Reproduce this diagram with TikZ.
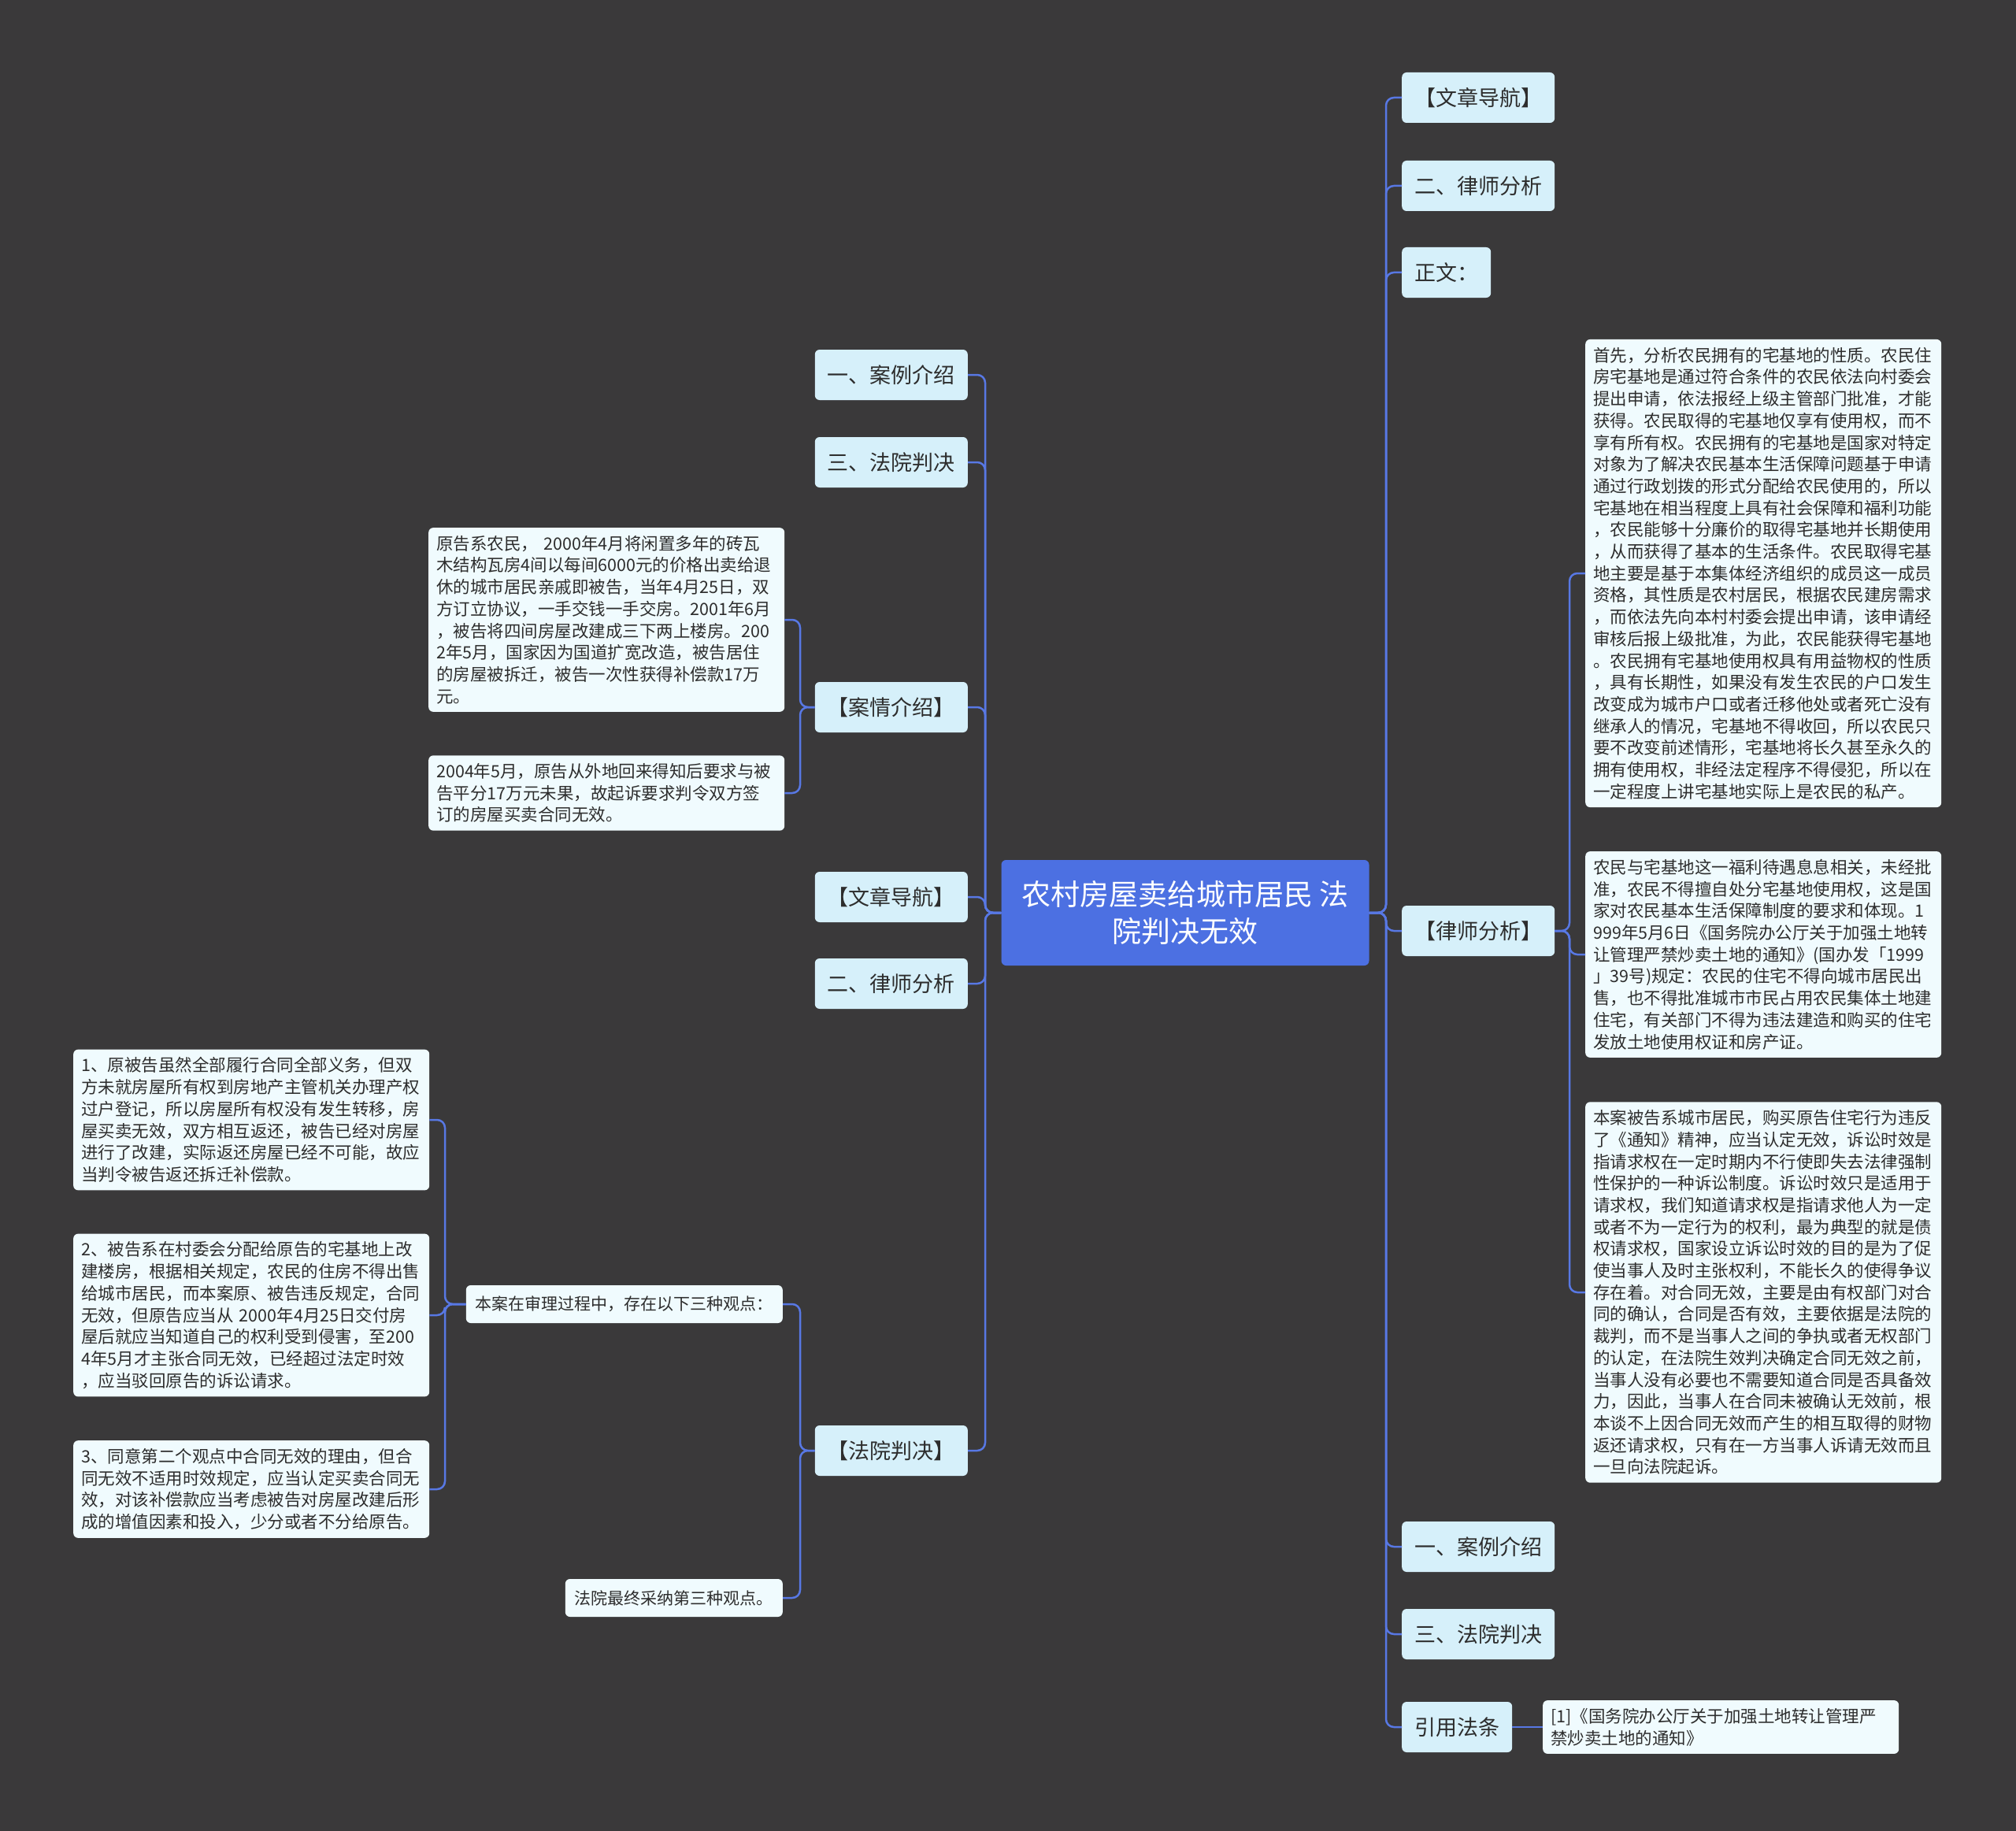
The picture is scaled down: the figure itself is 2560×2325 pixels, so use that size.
\documentclass[tikz,border=0pt]{standalone}
\usepackage{fontspec}
\setmainfont{Noto Sans CJK SC}

\definecolor{bgdark}{RGB}{58,57,58}
\definecolor{linkblue}{RGB}{88,120,228}
\definecolor{rootblue}{RGB}{76,112,226}
\definecolor{topicfill}{RGB}{214,240,250}
\definecolor{notefill}{RGB}{240,251,254}
\definecolor{textgray}{RGB}{45,45,45}

\begin{document}
\begin{tikzpicture}[x=1pt,y=-1pt,
  link/.style={draw=linkblue,line width=2.5pt,rounded corners=10pt},
  title/.style={fill=rootblue,text=white,rounded corners=6pt,minimum width=467pt,
    minimum height=134pt,align=center,font=\fontsize{37}{47}\selectfont},
  topic/.style={fill=topicfill,text=textgray,rounded corners=6pt,minimum height=64pt,
    inner xsep=16pt,font=\fontsize{27}{32}\selectfont},
  note/.style={fill=notefill,text=textgray,rounded corners=6pt,text width=432pt,
    inner xsep=10pt,inner ysep=10pt,align=left,font=\fontsize{21.5}{27.7}\selectfont},
  remark/.style={fill=notefill,text=textgray,rounded corners=6pt,minimum height=48pt,
    inner xsep=12pt,font=\fontsize{21}{26}\selectfont}]

\useasboundingbox (0,0) rectangle (2560,2325);
\fill[bgdark] (0,0) rectangle (2560,2325);

% Trunks
\coordinate (tR) at (1760,0);
\coordinate (tL) at (1251,0);
\coordinate (tLawyer) at (1993,0);
\coordinate (tCase) at (1016,0);
\coordinate (tView) at (565,0);

% Nodes
\node[title] (root) at (1505,1159) {农村房屋卖给城市居民 法\\院判决无效};

\node[topic,anchor=west,minimum width=194pt] (nav1) at (1780,124) {【文章导航】};
\node[topic,anchor=west,minimum width=194pt] (ana1) at (1780,236) {二、律师分析};
\node[topic,anchor=west] (body) at (1780,346) {正文：};
\node[topic,anchor=west,minimum width=194pt] (lawyer) at (1780,1182) {【律师分析】};
\node[topic,anchor=west,minimum width=194pt] (intro1) at (1780,1964) {一、案例介绍};
\node[topic,anchor=west,minimum width=194pt] (verdict1) at (1780,2075) {三、法院判决};
\node[topic,anchor=west] (cite) at (1780,2193) {引用法条};

\node[note,anchor=west] (law1) at (2013,728) {首先，分析农民拥有的宅基地的性质。农民住\\
房宅基地是通过符合条件的农民依法向村委会\\
提出申请，依法报经上级主管部门批准，才能\\
获得。农民取得的宅基地仅享有使用权，而不\\
享有所有权。农民拥有的宅基地是国家对特定\\
对象为了解决农民基本生活保障问题基于申请\\
通过行政划拨的形式分配给农民使用的，所以\\
宅基地在相当程度上具有社会保障和福利功能\\
，农民能够十分廉价的取得宅基地并长期使用\\
，从而获得了基本的生活条件。农民取得宅基\\
地主要是基于本集体经济组织的成员这一成员\\
资格，其性质是农村居民，根据农民建房需求\\
，而依法先向本村村委会提出申请，该申请经\\
审核后报上级批准，为此，农民能获得宅基地\\
。农民拥有宅基地使用权具有用益物权的性质\\
，具有长期性，如果没有发生农民的户口发生\\
改变成为城市户口或者迁移他处或者死亡没有\\
继承人的情况，宅基地不得收回，所以农民只\\
要不改变前述情形，宅基地将长久甚至永久的\\
拥有使用权，非经法定程序不得侵犯，所以在\\
一定程度上讲宅基地实际上是农民的私产。};
\node[note,anchor=west] (law2) at (2013,1212) {农民与宅基地这一福利待遇息息相关，未经批\\
准，农民不得擅自处分宅基地使用权，这是国\\
家对农民基本生活保障制度的要求和体现。1\\
999年5月6日《国务院办公厅关于加强土地转\\
让管理严禁炒卖土地的通知》(国办发「1999\\
」39号)规定：农民的住宅不得向城市居民出\\
售，也不得批准城市市民占用农民集体土地建\\
住宅，有关部门不得为违法建造和购买的住宅\\
发放土地使用权证和房产证。};
\node[note,anchor=west] (law3) at (2013,1641) {本案被告系城市居民，购买原告住宅行为违反\\
了《通知》精神，应当认定无效，诉讼时效是\\
指请求权在一定时期内不行使即失去法律强制\\
性保护的一种诉讼制度。诉讼时效只是适用于\\
请求权，我们知道请求权是指请求他人为一定\\
或者不为一定行为的权利，最为典型的就是债\\
权请求权，国家设立诉讼时效的目的是为了促\\
使当事人及时主张权利，不能长久的使得争议\\
存在着。对合同无效，主要是由有权部门对合\\
同的确认，合同是否有效，主要依据是法院的\\
裁判，而不是当事人之间的争执或者无权部门\\
的认定，在法院生效判决确定合同无效之前，\\
当事人没有必要也不需要知道合同是否具备效\\
力，因此，当事人在合同未被确认无效前，根\\
本谈不上因合同无效而产生的相互取得的财物\\
返还请求权，只有在一方当事人诉请无效而且\\
一旦向法院起诉。};
\node[note,anchor=west] (cite1) at (1959,2193) {[1]《国务院办公厅关于加强土地转让管理严\\
禁炒卖土地的通知》};

\node[topic,anchor=east,minimum width=194pt] (intro2) at (1229,476) {一、案例介绍};
\node[topic,anchor=east,minimum width=194pt] (verdict2) at (1229,587) {三、法院判决};
\node[topic,anchor=east,minimum width=194pt] (facts) at (1229,898) {【案情介绍】};
\node[topic,anchor=east,minimum width=194pt] (nav2) at (1229,1139) {【文章导航】};
\node[topic,anchor=east,minimum width=194pt] (ana2) at (1229,1249) {二、律师分析};
\node[topic,anchor=east,minimum width=194pt] (court) at (1229,1842) {【法院判决】};

\node[note,anchor=west] (facts1) at (544,787) {原告系农民， 2000年4月将闲置多年的砖瓦\\
木结构瓦房4间以每间6000元的价格出卖给退\\
休的城市居民亲戚即被告，当年4月25日，双\\
方订立协议，一手交钱一手交房。2001年6月\\
，被告将四间房屋改建成三下两上楼房。200\\
2年5月，国家因为国道扩宽改造，被告居住\\
的房屋被拆迁，被告一次性获得补偿款17万\\
元。};
\node[note,anchor=west] (facts2) at (544,1007) {2004年5月，原告从外地回来得知后要求与被\\
告平分17万元未果，故起诉要求判令双方签\\
订的房屋买卖合同无效。};

\node[remark,anchor=east] (views) at (994,1656) {本案在审理过程中，存在以下三种观点：};
\node[remark,anchor=east] (final) at (994,2029) {法院最终采纳第三种观点。};

\node[note,anchor=west] (view1) at (93,1422) {1、原被告虽然全部履行合同全部义务，但双\\
方未就房屋所有权到房地产主管机关办理产权\\
过户登记，所以房屋所有权没有发生转移，房\\
屋买卖无效，双方相互返还，被告已经对房屋\\
进行了改建，实际返还房屋已经不可能，故应\\
当判令被告返还拆迁补偿款。};
\node[note,anchor=west] (view2) at (93,1670) {2、被告系在村委会分配给原告的宅基地上改\\
建楼房，根据相关规定，农民的住房不得出售\\
给城市居民，而本案原、被告违反规定，合同\\
无效，但原告应当从 2000年4月25日交付房\\
屋后就应当知道自己的权利受到侵害，至200\\
4年5月才主张合同无效，已经超过法定时效\\
，应当驳回原告的诉讼请求。};
\node[note,anchor=west] (view3) at (93,1891) {3、同意第二个观点中合同无效的理由，但合\\
同无效不适用时效规定，应当认定买卖合同无\\
效，对该补偿款应当考虑被告对房屋改建后形\\
成的增值因素和投入，少分或者不分给原告。};

% Edges
\draw[link] (root.east) -- (root.east -| tR) |- (nav1.west);
\draw[link] (root.east) -- (root.east -| tR) |- (ana1.west);
\draw[link] (root.east) -- (root.east -| tR) |- (body.west);
\draw[link] (root.east) -- (root.east -| tR) |- (lawyer.west);
\draw[link] (root.east) -- (root.east -| tR) |- (intro1.west);
\draw[link] (root.east) -- (root.east -| tR) |- (verdict1.west);
\draw[link] (root.east) -- (root.east -| tR) |- (cite.west);
\draw[link] (lawyer.east) -- (lawyer.east -| tLawyer) |- (law1.west);
\draw[link] (lawyer.east) -- (lawyer.east -| tLawyer) |- (law2.west);
\draw[link] (lawyer.east) -- (lawyer.east -| tLawyer) |- (law3.west);
\draw[link] (cite.east) -- (cite1.west);

\draw[link] (root.west) -- (root.west -| tL) |- (intro2.east);
\draw[link] (root.west) -- (root.west -| tL) |- (verdict2.east);
\draw[link] (root.west) -- (root.west -| tL) |- (facts.east);
\draw[link] (root.west) -- (root.west -| tL) |- (nav2.east);
\draw[link] (root.west) -- (root.west -| tL) |- (ana2.east);
\draw[link] (root.west) -- (root.west -| tL) |- (court.east);
\draw[link] (facts.west) -- (facts.west -| tCase) |- (facts1.east);
\draw[link] (facts.west) -- (facts.west -| tCase) |- (facts2.east);
\draw[link] (court.west) -- (court.west -| tCase) |- (views.east);
\draw[link] (court.west) -- (court.west -| tCase) |- (final.east);
\draw[link] (views.west) -- (views.west -| tView) |- (view1.east);
\draw[link] (views.west) -- (views.west -| tView) |- (view2.east);
\draw[link] (views.west) -- (views.west -| tView) |- (view3.east);

\end{tikzpicture}
\end{document}
